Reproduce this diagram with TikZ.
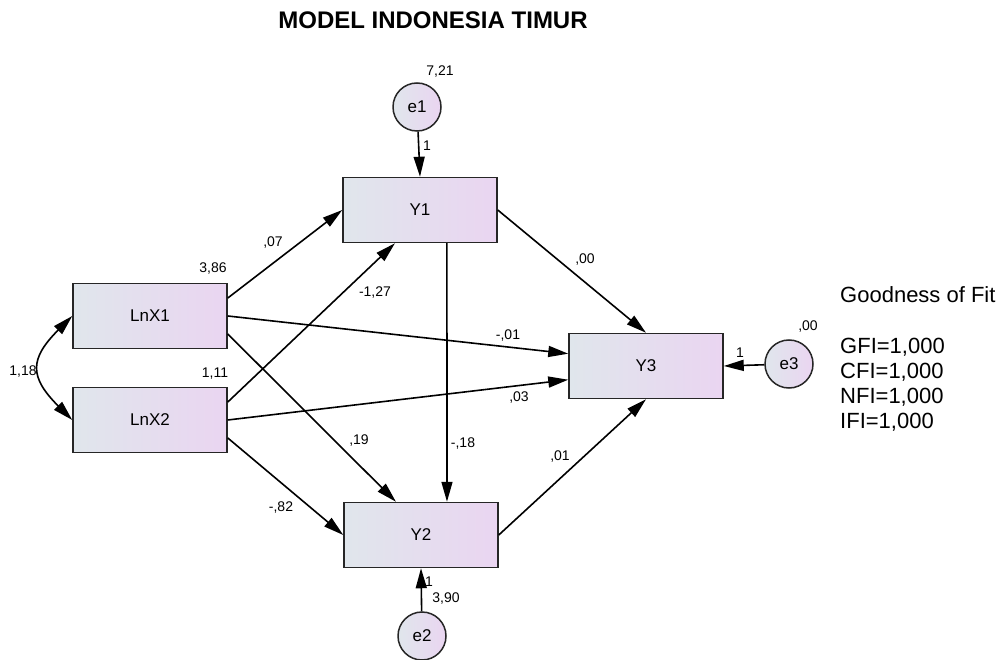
\documentclass[tikz,border=0pt]{standalone}
\usepackage{fontspec}
\setmainfont{Liberation Sans}
\usetikzlibrary{arrows.meta,calc,positioning,shapes.geometric}
\definecolor{boxleft}{HTML}{E0E6EC}
\definecolor{boxright}{HTML}{EAD5F1}
\definecolor{edgegrey}{HTML}{262626}
\tikzset{
  varnode/.style  = {shape=rectangle, draw=edgegrey, line width=1.5pt,
                     minimum width=154pt, minimum height=65pt, inner sep=0pt,
                     left color=boxleft, right color=boxright,
                     font=\fontsize{17}{19}\selectfont},
  errnode/.style  = {shape=circle, draw=edgegrey, line width=1.5pt,
                     minimum size=48pt, inner sep=0pt,
                     left color=boxleft, right color=boxright,
                     font=\fontsize{17}{19}\selectfont},
  est/.style      = {font=\fontsize{14}{16}\selectfont, inner sep=0pt},
  fit/.style      = {font=\fontsize{22}{25}\selectfont, inner sep=0pt, anchor=west}
}
\begin{document}
\begin{tikzpicture}
  [x=1pt, y=-1pt, >={Triangle[length=20pt,width=11pt]},
   path/.style={->, line width=1.6pt, draw=black}]
  \useasboundingbox (0,0) rectangle (1004,660);
  \node [font=\fontsize{24}{28}\selectfont\bfseries] (title) at (433,20) {MODEL INDONESIA TIMUR};
  % observed variables
  \node [varnode] (LnX1) at (150,316) {LnX1};
  \node [varnode] (LnX2) at (150,420) {LnX2};
  \node [varnode] (Y1) at (420,210) {Y1};
  \node [varnode] (Y2) at (421,535) {Y2};
  \node [varnode] (Y3) at (646,366) {Y3};
  % errors
  \node [errnode] (e1) at (417,107) {e1};
  \node [errnode] (e2) at (422,636) {e2};
  \node [errnode] (e3) at (789,364) {e3};
  % paths
  \draw [path] (e1) -- (Y1.north);
  \draw [path] (e2) -- (Y2.south);
  \draw [path] (e3) -- (Y3.east);
  \draw [path] (LnX1.13) -- (Y1.west);
  \draw [path] (LnX2.13) -- (Y1.233);
  \draw [path] (LnX1.east) -- (Y3.171);
  \draw [path] (LnX2.east) -- (Y3.190);
  \draw [path] (LnX1.-13) -- (Y2.127);
  \draw [path] (LnX2.-13) -- (Y2.west);
  \draw [path] (Y1.-51) -- (Y2.52);
  \draw [path] (Y1.east) -- (Y3.north);
  \draw [path] (Y2.east) -- (Y3.south);
  \draw [<->, line width=1.6pt] (LnX1.west) .. controls +(-43,43) and +(-43,-43) .. (LnX2.west);
  % estimates
  \node [est] at (440,72) {7,21};
  \node [est] at (427,146) {1};
  \node [est] at (213,269) {3,86};
  \node [est] at (215,374) {1,11};
  \node [est] at (23,372) {1,18};
  \node [est] at (273,243) {,07};
  \node [est] at (375,293) {-1,27};
  \node [est] at (508,336) {-,01};
  \node [est] at (519,398) {,03};
  \node [est] at (359,441) {,19};
  \node [est] at (463,444) {-,18};
  \node [est] at (560,457) {,01};
  \node [est] at (281,508) {-,82};
  \node [est] at (585,260) {,00};
  \node [est] at (429,582) {1};
  \node [est] at (446,599) {3,90};
  \node [est] at (740,353) {1};
  \node [est] at (808,327) {,00};
  % fit indices
  \node [fit] (gof) at (840,295) {Goodness of Fit};
  \node [fit] (gfi) at (840,347) {GFI=1,000};
  \node [fit] (cfi) at (840,372) {CFI=1,000};
  \node [fit] (nfi) at (840,397) {NFI=1,000};
  \node [fit] (ifi) at (840,422) {IFI=1,000};
\end{tikzpicture}
\end{document}
